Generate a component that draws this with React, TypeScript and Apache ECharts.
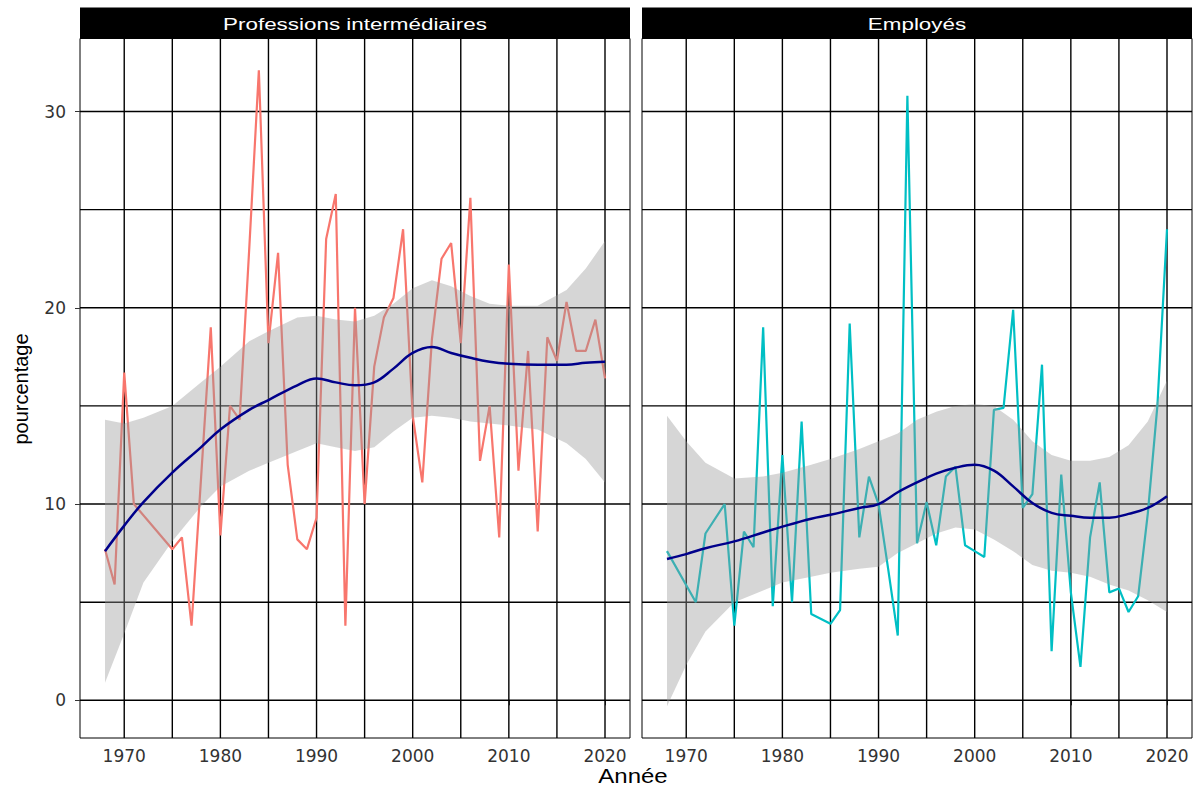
import React, { useEffect, useRef } from "react";
import * as echarts from "echarts";

// ---- Data ----
const panelTitles = ["Professions intermédiaires", "Employés"];

const piYears = [1968, 1969, 1970, 1971, 1975, 1976, 1977, 1978, 1979, 1980, 1981, 1982, 1983, 1984, 1985, 1986, 1987, 1988, 1989, 1990, 1991, 1992, 1993, 1994, 1995, 1996, 1997, 1998, 1999, 2000, 2001, 2002, 2003, 2004, 2005, 2006, 2007, 2008, 2009, 2010, 2011, 2012, 2013, 2014, 2015, 2016, 2017, 2018, 2019, 2020];
const piValues = [7.7, 5.9, 16.7, 10.0, 7.7, 8.3, 3.8, 11.4, 19.0, 8.4, 15.0, 14.3, 23.0, 32.1, 18.2, 22.8, 12.0, 8.2, 7.7, 9.3, 23.5, 25.8, 3.8, 20.0, 10.0, 17.0, 19.5, 20.5, 24.0, 14.5, 11.1, 18.4, 22.5, 23.3, 18.2, 25.6, 12.2, 15.0, 8.3, 22.2, 11.7, 17.8, 8.6, 18.5, 17.3, 20.3, 17.8, 17.8, 19.4, 16.4];

const empYears = [1968, 1971, 1972, 1974, 1975, 1976, 1977, 1978, 1979, 1980, 1981, 1982, 1983, 1985, 1986, 1987, 1988, 1989, 1990, 1991, 1992, 1993, 1994, 1995, 1996, 1997, 1998, 1999, 2000, 2001, 2002, 2003, 2004, 2005, 2006, 2007, 2008, 2009, 2010, 2011, 2012, 2013, 2014, 2015, 2016, 2017, 2018, 2019, 2020];
const empValues = [7.6, 5.0, 8.5, 10.0, 3.8, 8.6, 7.8, 19.0, 4.8, 12.5, 5.0, 14.2, 4.4, 3.9, 4.6, 19.2, 8.3, 11.4, 10.0, 6.7, 3.3, 30.8, 8.0, 10.1, 7.9, 11.4, 11.9, 7.9, 7.6, 7.3, 14.8, 14.9, 19.9, 9.8, 10.5, 17.1, 2.5, 11.5, 5.5, 1.7, 8.3, 11.1, 5.5, 5.7, 4.5, 5.3, 9.5, 15.0, 24.0];

// loess smooth (fit, confidence band)
const piSmoothYears = [1968, 1970, 1972, 1975, 1978, 1980, 1983, 1985, 1988, 1990, 1992, 1994, 1996, 1998, 2000, 2002, 2004, 2006, 2008, 2010, 2013, 2016, 2018, 2020];
const piFit = [7.6, 8.9, 10.1, 11.6, 12.9, 13.8, 14.8, 15.3, 16.05, 16.4, 16.2, 16.05, 16.2, 16.9, 17.7, 18.0, 17.7, 17.45, 17.25, 17.15, 17.1, 17.1, 17.2, 17.25];
const piUpper = [14.3, 14.1, 14.4, 15.0, 16.2, 17.0, 18.3, 18.8, 19.5, 19.6, 19.4, 19.3, 19.6, 20.2, 21.0, 21.4, 21.1, 20.6, 20.2, 20.1, 20.1, 20.9, 22.0, 23.4];
const piLower = [0.9, 3.4, 6.0, 8.1, 9.9, 10.9, 11.7, 12.1, 12.7, 13.1, 12.9, 12.7, 12.9, 13.7, 14.4, 14.5, 14.4, 14.2, 14.1, 14.0, 13.8, 13.1, 12.3, 11.1];

const empSmoothYears = [1968, 1970, 1972, 1975, 1978, 1980, 1983, 1985, 1988, 1990, 1992, 1994, 1996, 1998, 2000, 2002, 2004, 2006, 2008, 2010, 2012, 2014, 2016, 2018, 2020];
const empFit = [7.2, 7.45, 7.75, 8.1, 8.55, 8.85, 9.25, 9.45, 9.8, 10.0, 10.6, 11.1, 11.55, 11.85, 12.0, 11.7, 10.9, 10.05, 9.55, 9.4, 9.3, 9.3, 9.5, 9.8, 10.4];
const empUpper = [14.5, 13.2, 12.1, 11.3, 11.4, 11.6, 12.0, 12.3, 12.8, 13.2, 13.6, 14.3, 14.7, 15.0, 15.1, 15.0, 14.3, 13.2, 12.5, 12.2, 12.2, 12.4, 13.0, 14.2, 16.3];
const empLower = [-0.3, 1.8, 3.5, 5.0, 5.6, 6.0, 6.3, 6.5, 6.7, 6.8, 7.5, 8.0, 8.5, 8.8, 8.7, 8.2, 7.6, 6.9, 6.6, 6.5, 6.3, 5.9, 5.6, 5.1, 4.5];

const xTickLabels = [1970, 1980, 1990, 2000, 2010, 2020];
const yTickLabels = [0, 10, 20, 30];
const xGridBreaks = [1970, 1975, 1980, 1985, 1990, 1995, 2000, 2005, 2010, 2015, 2020];
const yGridBreaks = [0, 5, 10, 15, 20, 25, 30];

// ---- Layout ----
const X_MIN = 1965.4;
const X_MAX = 2022.6;
const Y_MIN = -1.92;
const Y_MAX = 33.72;
const PANEL_TOP = 38.5;
const PANEL_H = 699.5;
const PANEL_W = 550;
const PANEL_LEFTS = [80, 642];
const STRIP_TOP = 7.5;
const STRIP_H = 31;

const RAW_COLORS = ["#F8766D", "#00BFC4"];
const SMOOTH_COLOR = "#00008B";
const BAND_FILL = "rgba(153,153,153,0.4)";
const GRID_COLOR = "#000000";
const TEXT_COLOR = "#333333";

function zip(xs: number[], ys: number[]) {
  return xs.map((x, i) => [x, ys[i]]);
}

function gridLineSeries(idx: number) {
  return [
    {
      type: "custom",
      xAxisIndex: idx,
      yAxisIndex: idx,
      z: 1,
      silent: true,
      data: xGridBreaks.map((v) => [v, 10]),
      renderItem: (params: any, api: any) => {
        const cs = params.coordSys;
        const p = api.coord([api.value(0), 10]);
        return {
          type: "line",
          shape: { x1: p[0], y1: cs.y, x2: p[0], y2: cs.y + cs.height },
          style: { stroke: GRID_COLOR, lineWidth: 1.4 },
        };
      },
    },
    {
      type: "custom",
      xAxisIndex: idx,
      yAxisIndex: idx,
      z: 1,
      silent: true,
      data: yGridBreaks.map((v) => [2000, v]),
      renderItem: (params: any, api: any) => {
        const cs = params.coordSys;
        const p = api.coord([2000, api.value(1)]);
        return {
          type: "line",
          shape: { x1: cs.x, y1: p[1], x2: cs.x + cs.width, y2: p[1] },
          style: { stroke: GRID_COLOR, lineWidth: 1.4 },
        };
      },
    },
  ];
}

function bandSeries(idx: number, years: number[], upper: number[], lower: number[]) {
  return {
    type: "custom",
    xAxisIndex: idx,
    yAxisIndex: idx,
    z: 3,
    silent: true,
    data: [[years[0], lower[0]]],
    renderItem: (params: any, api: any) => {
      const pts: number[][] = [];
      for (let i = 0; i < years.length; i++) pts.push(api.coord([years[i], upper[i]]));
      for (let i = years.length - 1; i >= 0; i--) pts.push(api.coord([years[i], lower[i]]));
      return {
        type: "polygon",
        shape: { points: pts },
        style: { fill: BAND_FILL },
      };
    },
  };
}

export default function App() {
  const ref = useRef<HTMLDivElement>(null);

  useEffect(() => {
    document.body.style.margin = "0";
    if (!ref.current) return;
    const chart = echarts.init(ref.current, undefined, { renderer: "svg" });

    const grids = PANEL_LEFTS.map((left) => ({
      left,
      top: PANEL_TOP,
      width: PANEL_W,
      height: PANEL_H,
      show: true,
      borderColor: "#000",
      borderWidth: 1,
      backgroundColor: "transparent",
      containLabel: false,
    }));

    const xAxes = PANEL_LEFTS.map((_, i) => ({
      type: "value",
      gridIndex: i,
      min: X_MIN,
      max: X_MAX,
      splitLine: { show: false },
      axisLine: { show: false },
      axisTick: {
        show: true,
        length: 5,
        customValues: xTickLabels,
        lineStyle: { color: TEXT_COLOR, width: 1 },
      },
      axisLabel: {
        show: true,
        customValues: xTickLabels,
        formatter: (v: number) => String(Math.round(v)),
        margin: 9,
        fontFamily: "DejaVu Sans",
        fontSize: 17,
        color: TEXT_COLOR,
      },
    }));

    const yAxes = PANEL_LEFTS.map((_, i) => ({
      type: "value",
      gridIndex: i,
      min: Y_MIN,
      max: Y_MAX,
      splitLine: { show: false },
      axisLine: { show: false },
      axisTick: {
        show: i === 0,
        length: 5,
        customValues: yTickLabels,
        lineStyle: { color: TEXT_COLOR, width: 1 },
      },
      axisLabel: {
        show: i === 0,
        customValues: yTickLabels,
        formatter: (v: number) => String(Math.round(v)),
        margin: 14,
        fontFamily: "DejaVu Sans",
        fontSize: 17,
        color: TEXT_COLOR,
      },
    }));

    const raw = [zip(piYears, piValues), zip(empYears, empValues)];
    const smooth = [
      { years: piSmoothYears, fit: piFit, upper: piUpper, lower: piLower },
      { years: empSmoothYears, fit: empFit, upper: empUpper, lower: empLower },
    ];

    const series: any[] = [];
    [0, 1].forEach((i) => {
      series.push(...gridLineSeries(i));
      series.push({
        type: "line",
        xAxisIndex: i,
        yAxisIndex: i,
        z: 2,
        data: raw[i],
        showSymbol: false,
        symbol: "none",
        lineStyle: { color: RAW_COLORS[i], width: 2.2 },
        itemStyle: { color: RAW_COLORS[i] },
        silent: true,
      });
      series.push(bandSeries(i, smooth[i].years, smooth[i].upper, smooth[i].lower));
      series.push({
        type: "line",
        xAxisIndex: i,
        yAxisIndex: i,
        z: 4,
        data: zip(smooth[i].years, smooth[i].fit),
        smooth: 0.4,
        showSymbol: false,
        symbol: "none",
        lineStyle: { color: SMOOTH_COLOR, width: 2.5 },
        itemStyle: { color: SMOOTH_COLOR },
        silent: true,
      });
    });

    const graphics: any[] = [];
    PANEL_LEFTS.forEach((left, i) => {
      graphics.push({
        type: "rect",
        shape: { x: left, y: STRIP_TOP, width: PANEL_W, height: STRIP_H },
        style: { fill: "#000" },
        z: 10,
        silent: true,
      });
      graphics.push({
        type: "text",
        x: left + PANEL_W / 2,
        y: STRIP_TOP + STRIP_H / 2 + 1,
        scaleX: 1.4,
        style: {
          text: panelTitles[i],
          fill: "#fff",
          font: '16px "Liberation Sans", Arial, sans-serif',
          textAlign: "center",
          textVerticalAlign: "middle",
        },
        z: 11,
        silent: true,
      });
    });
    graphics.push({
      type: "text",
      x: 21,
      y: 389,
      rotation: Math.PI / 2,
      style: {
        text: "pourcentage",
        fill: "#000",
        font: '20px "Liberation Sans", Arial, sans-serif',
        textAlign: "center",
        textVerticalAlign: "middle",
      },
      silent: true,
    });
    graphics.push({
      type: "text",
      x: 633,
      y: 776,
      scaleX: 1.2,
      style: {
        text: "Année",
        fill: "#000",
        font: '20px "Liberation Sans", Arial, sans-serif',
        textAlign: "center",
        textVerticalAlign: "middle",
      },
      silent: true,
    });

    chart.setOption({
      animation: false,
      backgroundColor: "#ffffff",
      grid: grids,
      xAxis: xAxes,
      yAxis: yAxes,
      series,
      graphic: graphics,
    });

    return () => {
      chart.dispose();
    };
  }, []);

  return <div ref={ref} style={{ width: 1195, height: 787 }} />;
}
